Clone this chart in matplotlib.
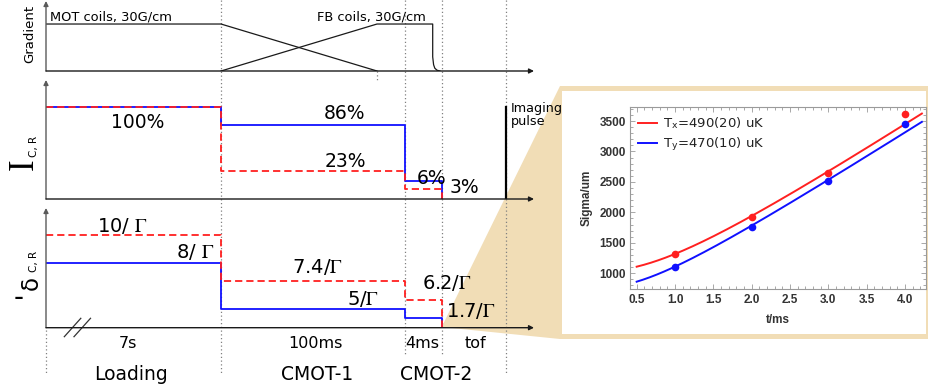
import numpy as np
import matplotlib
matplotlib.use("Agg")
import matplotlib.pyplot as plt
from matplotlib import transforms
from matplotlib.patches import Polygon, Rectangle
from matplotlib.ticker import MultipleLocator, FormatStrFormatter

plt.rcParams["font.family"] = ["DejaVu Sans"]
plt.rcParams["mathtext.fontset"] = "stix"

# ---------------- sequence ----------------
phases = ["Loading", "CMOT-1", "CMOT-2"]
durations = ["7s", "100ms", "4ms", "tof"]

# coil gradients (G/cm) on the schematic time axis
mot_t = [0, 175, 331]
mot_g = [30, 30, 0]
fb_t = [175, 331, 386.7, 386.7, 387.6, 388.8, 391.0, 394.0]
fb_g = [0, 30, 30, 9, 4, 1.8, 0.5, 0]
coil_labels = ["MOT coils, 30G/cm", "FB coils, 30G/cm"]

# laser intensity (% of loading value) in each stage
i_cool = [100, 86, 6]
i_rep = [100, 23, 3]
imaging_level = 100

# detuning (in units of Gamma) in each stage
d_cool = [8, 5, 1.7]
d_rep = [10, 7.4, 6.2]

# ---------------- time of flight ----------------
tof_ms = [1.0, 2.0, 3.0, 4.0]
sigma_x_um = [1317, 1919, 2651, 3610]
sigma_y_um = [1106, 1765, 2520, 3455]
temp_x_uK, temp_x_err = 490, 20
temp_y_uK, temp_y_err = 470, 10
sigma0_x_um = 1029
sigma0_y_um = 762

KB = 1.380649e-23
M_LI6 = 6.0151223 * 1.66053907e-27

# ---------------- layout (schematic, not to scale) ----------------
W, H = 929, 391
STAGE_EDGES = [0, 175, 359, 395.7]     # loading | CMOT-1 | CMOT-2 | release
T_IMAGE = 460.3
RAMP_END = 331
T_SPAN = 488

# drawn height (px above baseline) of each level on the schematic axes
I_STOPS = ([0, 3, 6, 23, 86, 100, 130], [0, 9.7, 18.3, 28, 73.7, 92.3, 119])
D_STOPS = ([0, 1.7, 5, 6.2, 7.4, 8, 10, 13], [0, 9.4, 18.7, 28, 46.4, 64.7, 92.4, 119.7])

BLUE = "#1010ff"
RED = "#ff2020"
TAN = "#f1ddb6"
AX_GRAY = "#5a5a5a"
BASE = "#1a1a1a"
DOT = "#808080"

fig = plt.figure(figsize=(W / 100, H / 100), dpi=100)


def px_axes(x0, y0, x1, y1):
    return fig.add_axes([x0 / W, 1 - y1 / H, (x1 - x0) / W, (y1 - y0) / H])


def ftext(x, y, s, **kw):
    return fig.text(x / W, 1 - y / H, s, **kw)


# background layer: zoom wedge and inset frame
bg = px_axes(0, 0, W, H)
bg.set_xlim(0, W)
bg.set_ylim(H, 0)
bg.axis("off")
bg.add_patch(Polygon([(441.7, 327), (560, 86), (929, 86), (929, 339), (560, 339)],
                     closed=True, facecolor=TAN, edgecolor="none", zorder=0))
bg.add_patch(Rectangle((562.5, 91), 926 - 562.5, 334 - 91, facecolor="white",
                       edgecolor="none", zorder=0.5))


def stops_scale(stops):
    v, h = stops
    return (lambda x: np.interp(x, v, h), lambda y: np.interp(y, h, v))


def timeline_axes(y_top, y_base, stops=None, ymax=None):
    ax = px_axes(46, y_top, 46 + T_SPAN, y_base)
    if stops is not None:
        ax.set_yscale("function", functions=stops_scale(stops))
    ax.set_xlim(0, T_SPAN)
    ax.set_ylim(0, ymax)
    ax.patch.set_alpha(0)
    for s in ax.spines.values():
        s.set_visible(False)
    ax.tick_params(which="both", left=False, bottom=False, labelleft=False, labelbottom=False)
    arrow = dict(arrowstyle="-|>", mutation_scale=7, shrinkA=0, shrinkB=0, lw=1.0)
    ax.annotate("", xy=(0, 1), xytext=(0, 0), xycoords="axes fraction",
                arrowprops=dict(arrow, color=AX_GRAY))
    ax.annotate("", xy=(1, 0), xytext=(0, 0), xycoords="axes fraction",
                arrowprops=dict(arrow, color=BASE))
    return ax


def stage_steps(ax, levels, **kw):
    ax.plot(STAGE_EDGES, list(levels) + [0], drawstyle="steps-post", **kw)


solid = dict(color=BLUE, lw=1.3, solid_capstyle="butt")
dashed = dict(color=RED, lw=1.3, linestyle=(0, (4, 2.2)))

# gradient panel
ax1 = timeline_axes(1, 71, ymax=44.7)
ax1.plot(mot_t, mot_g, color=BASE, lw=0.9)
ax1.plot(fb_t, fb_g, color=BASE, lw=0.9)

# intensity panel
ax2 = timeline_axes(80, 199, stops=I_STOPS, ymax=130)
stage_steps(ax2, i_cool, **solid)
stage_steps(ax2, i_rep, **dashed)
ax2.plot([T_IMAGE, T_IMAGE], [0, imaging_level], color="black", lw=1.6)

# detuning panel
ax3 = timeline_axes(208, 327.7, stops=D_STOPS, ymax=13)
stage_steps(ax3, d_cool, **solid)
stage_steps(ax3, d_rep, **dashed)

# stage separators
sep = transforms.blended_transform_factory(ax3.transData, bg.transData)
dotted = dict(color=DOT, lw=0.9, linestyle=(0, (1, 2)), transform=sep, zorder=2)
for x, y0, y1 in [(STAGE_EDGES[0], 330, 373), (STAGE_EDGES[1], 0, 373),
                  (STAGE_EDGES[2], 0, 355), (STAGE_EDGES[3], 0, 355),
                  (T_IMAGE, 0, 373), (RAMP_END, 71, 80)]:
    bg.plot([x, x], [y0, y1], **dotted)

# broken time axis
for x0 in (64.3, 74.0):
    bg.plot([x0, x0 + 16.5], [336.7, 318.3], color="#333333", lw=0.9, zorder=2)

# ---------------- text ----------------
ftext(33.3, 33.5, "Gradient", rotation=90, ha="center", va="baseline",
      rotation_mode="anchor", fontsize=9.5)
ftext(33, 164, "I", family="Liberation Serif", fontsize=25, rotation=90,
      ha="center", va="baseline", rotation_mode="anchor")
ftext(37, 146.5, "C, R", fontsize=7.5, rotation=90, ha="center", va="baseline",
      rotation_mode="anchor")
ftext(18.5, 306, "-", fontsize=20, ha="center", va="baseline")
ftext(37.5, 282.5, "\u03b4", fontsize=16.5, rotation=90, ha="center", va="baseline",
      rotation_mode="anchor")
ftext(37, 261, "C, R", fontsize=7.5, rotation=90, ha="center", va="baseline",
      rotation_mode="anchor")

ftext(50, 20, coil_labels[0], fontsize=9.4, ha="left", va="baseline")
ftext(317, 20, coil_labels[1], fontsize=9.4, ha="left", va="baseline")

pct = dict(fontsize=13.5, ha="center", va="baseline")
ftext(137.5, 127.7, f"{i_cool[0]:g}%", **pct)
ftext(345, 119.3, f"{i_cool[1]:g}%", **pct)
ftext(345, 166.7, f"{i_rep[1]:g}%", **pct)
ftext(432, 184.3, f"{i_cool[2]:g}%", **pct)
ftext(464, 193.3, f"{i_rep[2]:g}%", **pct)

ftext(510.5, 111.5, "Imaging", fontsize=9.2, ha="left", va="baseline")
ftext(510.5, 125.5, "pulse", fontsize=9.2, ha="left", va="baseline")

det = dict(fontsize=14, ha="center", va="baseline")
G = r"$\Gamma$"
ftext(122, 231.7, f"{d_rep[0]:g}/ " + G, **det)
ftext(195, 258, f"{d_cool[0]:g}/ " + G, **det)
ftext(317.5, 273, f"{d_rep[1]:g}/" + G, **det)
ftext(363, 305, f"{d_cool[1]:g}/" + G, **det)
ftext(446.5, 289, f"{d_rep[2]:g}/" + G, **det)
ftext(471, 316.7, f"{d_cool[2]:g}/" + G, **det)

for x, s in zip([128, 315, 422, 475.8], durations):
    ftext(x, 348, s, fontsize=11.5, ha="center", va="baseline")
for x, s in zip([130.5, 317.5, 435.8], phases):
    ftext(x, 380, s, fontsize=13.5, ha="center", va="baseline")

# ---------------- time-of-flight inset ----------------
axi = px_axes(630, 107.3, 925.7, 289)
axi.set_xlim(0.413, 4.27)
axi.set_ylim(742, 3725)
tt = np.linspace(0.5, 4.22, 200)
series = [
    (temp_x_uK, temp_x_err, sigma0_x_um, sigma_x_um, RED, "x"),
    (temp_y_uK, temp_y_err, sigma0_y_um, sigma_y_um, BLUE, "y"),
]
for T, dT, s0, sig, c, ax_name in series:
    v2 = KB * T * 1e-6 / M_LI6 * 1e6          # um^2 / ms^2
    axi.plot(tt, np.sqrt(s0 ** 2 + v2 * tt ** 2), color=c, lw=1.4,
             label=rf"T$_\mathregular{{{ax_name}}}$={T}({dT}) uK")
    axi.plot(tof_ms, sig, "o", color=c, ms=5.5, mec="none")

axi.xaxis.set_major_locator(MultipleLocator(0.5))
axi.xaxis.set_minor_locator(MultipleLocator(0.1))
axi.xaxis.set_major_formatter(FormatStrFormatter("%.1f"))
axi.yaxis.set_major_locator(MultipleLocator(500))
axi.yaxis.set_minor_locator(MultipleLocator(100))
axi.tick_params(which="both", direction="in", top=True, right=True, color="#9a9a9a",
                width=0.6, labelcolor="#333333", labelsize=8.5)
axi.tick_params(which="major", length=3.5)
axi.tick_params(which="minor", length=2)
axi.tick_params(axis="x", pad=3.6)
axi.tick_params(axis="y", pad=2.9)
for s in axi.spines.values():
    s.set_color("#9a9a9a")
    s.set_linewidth(0.8)
for lab in axi.get_xticklabels() + axi.get_yticklabels():
    lab.set_family("Liberation Sans")
    lab.set_fontweight("bold")

axi.legend(loc="upper left", bbox_to_anchor=(0, 1), borderaxespad=0, borderpad=0.6,
           frameon=False, fontsize=9.5, handlelength=1.45, handletextpad=0.45,
           labelspacing=0.35, labelcolor="#222222")

ftext(587, 197.5, "Sigma/um", family="Liberation Sans", fontweight="bold", fontsize=8.5,
      color="#333333", rotation=90, ha="center", va="center")
ftext(777.5, 320, "t/ms", family="Liberation Sans", fontweight="bold", fontsize=8.5,
      color="#333333", ha="center", va="center")

fig.savefig("out.png", dpi=100)
